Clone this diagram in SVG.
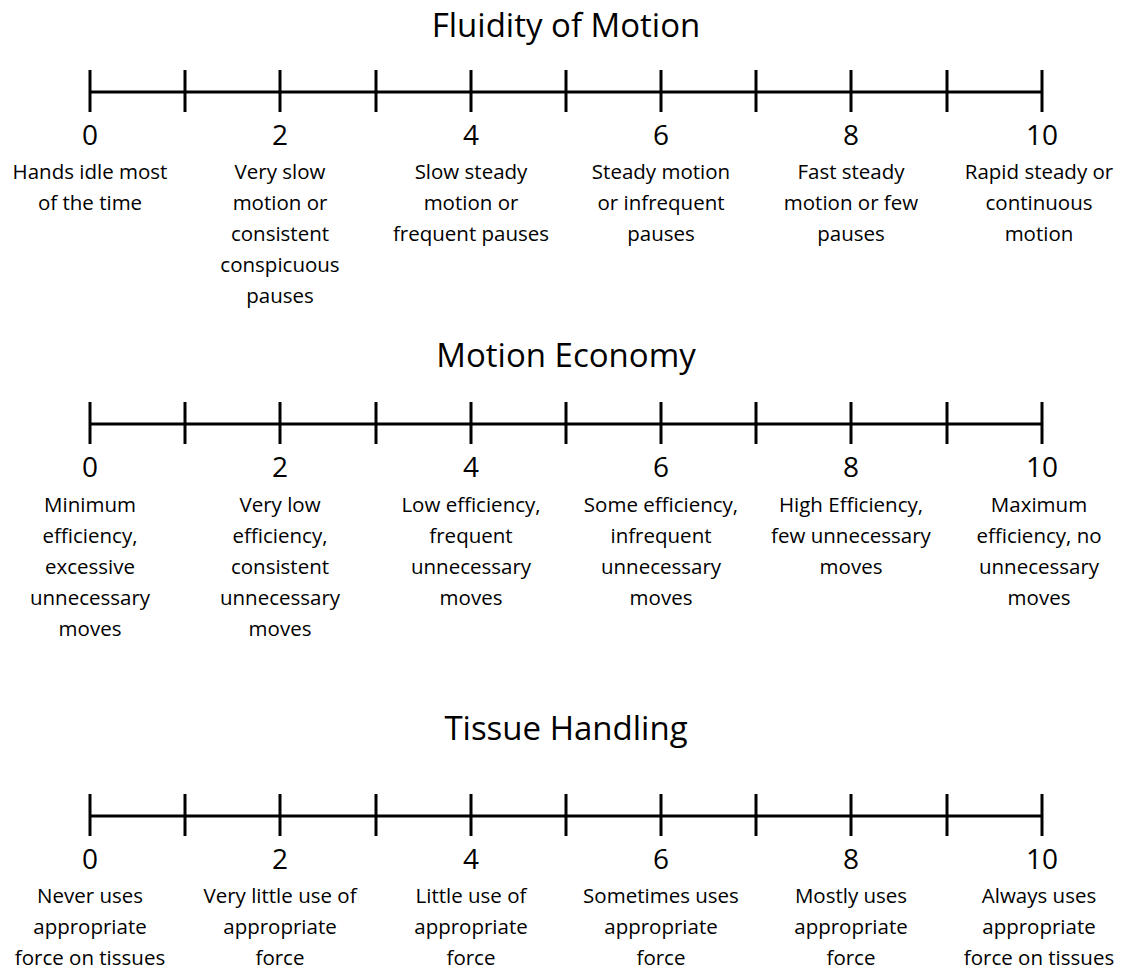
<svg xmlns="http://www.w3.org/2000/svg" width="1126" height="973" viewBox="0 0 1126 973">
<style>
text{font-family:"Open Sans","Noto Sans",sans-serif;fill:#000;text-anchor:middle}
.t{font-size:33px}
.n{font-size:28px}
.l{font-size:20.5px}
</style>
<rect width="1126" height="973" fill="#fff"/>
<defs>
<g id="scale" stroke="#000" stroke-width="3">
<line x1="89" y1="0" x2="1043" y2="0"/>
<line x1="90" y1="-22" x2="90" y2="20"/>
<line x1="185" y1="-22" x2="185" y2="20"/>
<line x1="280" y1="-22" x2="280" y2="20"/>
<line x1="376" y1="-22" x2="376" y2="20"/>
<line x1="471" y1="-22" x2="471" y2="20"/>
<line x1="566" y1="-22" x2="566" y2="20"/>
<line x1="661" y1="-22" x2="661" y2="20"/>
<line x1="756" y1="-22" x2="756" y2="20"/>
<line x1="851" y1="-22" x2="851" y2="20"/>
<line x1="947" y1="-22" x2="947" y2="20"/>
<line x1="1042" y1="-22" x2="1042" y2="20"/>
</g>
</defs>
<g id="connectors">
<use href="#scale" y="92"/>
<use href="#scale" y="424"/>
<use href="#scale" y="816"/>
</g>
<g id="fluidity">
<text class="t" x="566" y="37">Fluidity of Motion</text>
<g class="n"><text x="90" y="145">0</text><text x="280" y="145">2</text><text x="471" y="145">4</text><text x="661" y="145">6</text><text x="851" y="145">8</text><text x="1042" y="145">10</text></g>
<g class="l">
<text x="90" y="179">Hands idle most</text><text x="90" y="210">of the time</text>
<text x="280" y="179">Very slow</text><text x="280" y="210">motion or</text><text x="280" y="241">consistent</text><text x="280" y="272">conspicuous</text><text x="280" y="303">pauses</text>
<text x="471" y="179">Slow steady</text><text x="471" y="210">motion or</text><text x="471" y="241">frequent pauses</text>
<text x="661" y="179">Steady motion</text><text x="661" y="210">or infrequent</text><text x="661" y="241">pauses</text>
<text x="851" y="179">Fast steady</text><text x="851" y="210">motion or few</text><text x="851" y="241">pauses</text>
<text x="1039" y="179">Rapid steady or</text><text x="1039" y="210">continuous</text><text x="1039" y="241">motion</text>
</g>
</g>
<g id="economy">
<text class="t" x="566" y="367">Motion Economy</text>
<g class="n"><text x="90" y="477">0</text><text x="280" y="477">2</text><text x="471" y="477">4</text><text x="661" y="477">6</text><text x="851" y="477">8</text><text x="1042" y="477">10</text></g>
<g class="l">
<text x="90" y="512">Minimum</text><text x="90" y="543">efficiency,</text><text x="90" y="574">excessive</text><text x="90" y="605">unnecessary</text><text x="90" y="636">moves</text>
<text x="280" y="512">Very low</text><text x="280" y="543">efficiency,</text><text x="280" y="574">consistent</text><text x="280" y="605">unnecessary</text><text x="280" y="636">moves</text>
<text x="471" y="512">Low efficiency,</text><text x="471" y="543">frequent</text><text x="471" y="574">unnecessary</text><text x="471" y="605">moves</text>
<text x="661" y="512">Some efficiency,</text><text x="661" y="543">infrequent</text><text x="661" y="574">unnecessary</text><text x="661" y="605">moves</text>
<text x="851" y="512">High Efficiency,</text><text x="851" y="543">few unnecessary</text><text x="851" y="574">moves</text>
<text x="1039" y="512">Maximum</text><text x="1039" y="543">efficiency, no</text><text x="1039" y="574">unnecessary</text><text x="1039" y="605">moves</text>
</g>
</g>
<g id="tissue">
<text class="t" x="566" y="740">Tissue Handling</text>
<g class="n"><text x="90" y="869">0</text><text x="280" y="869">2</text><text x="471" y="869">4</text><text x="661" y="869">6</text><text x="851" y="869">8</text><text x="1042" y="869">10</text></g>
<g class="l">
<text x="90" y="903">Never uses</text><text x="90" y="934">appropriate</text><text x="90" y="965">force on tissues</text>
<text x="280" y="903">Very little use of</text><text x="280" y="934">appropriate</text><text x="280" y="965">force</text>
<text x="471" y="903">Little use of</text><text x="471" y="934">appropriate</text><text x="471" y="965">force</text>
<text x="661" y="903">Sometimes uses</text><text x="661" y="934">appropriate</text><text x="661" y="965">force</text>
<text x="851" y="903">Mostly uses</text><text x="851" y="934">appropriate</text><text x="851" y="965">force</text>
<text x="1039" y="903">Always uses</text><text x="1039" y="934">appropriate</text><text x="1039" y="965">force on tissues</text>
</g>
</g>
</svg>
